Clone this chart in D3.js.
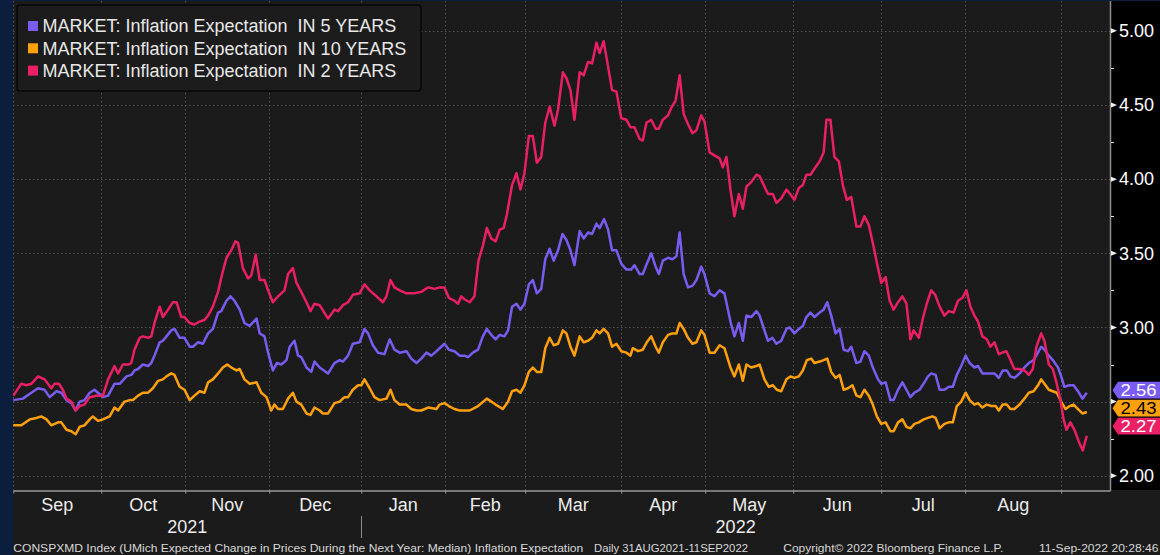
<!DOCTYPE html>
<html>
<head>
<meta charset="utf-8">
<script src="https://cdn.jsdelivr.net/npm/d3@7"></script>
<style>
  html, body { margin: 0; padding: 0; background: #0c1e3e; }
  svg { display: block; }
  text { font-family: "Liberation Sans", Arial, sans-serif; }
</style>
</head>
<body>
<svg width="1160" height="555"></svg>
<script>
// x values are trading days counted from 1 Sep 2021, y values are percent
const monthNames = ["Sep", "Oct", "Nov", "Dec", "Jan", "Feb", "Mar", "Apr", "May", "Jun", "Jul", "Aug"];
const monthStarts = [0, 22, 43, 64, 87, 108, 128, 152, 173, 195, 217, 238, 262];
const yearLabels = ["2021", "2022"];
const yearStarts = [0, 87];
const lastAxisDay = 274.2;

const yGridTicks = [2, 2.5, 3, 3.5, 4, 4.5, 5];
const yLabelTicks = [2, 3, 3.5, 4, 4.5, 5];
const yMinorTicks = [2.25, 2.75, 3.25, 3.75, 4.25, 4.75];

const seriesNames = [
  "MARKET: Inflation Expectation  IN 5 YEARS",
  "MARKET: Inflation Expectation  IN 10 YEARS",
  "MARKET: Inflation Expectation  IN 2 YEARS"
];
const seriesColors = ["#7b5cf2", "#ffa00f", "#ea1f66"];
const labelTextColors = ["#ffffff", "#000000", "#ffffff"];

const in5Years = [[0,2.51],[2.4,2.52],[4.5,2.56],[6.2,2.59],[7.8,2.58],[9.1,2.53],[10.8,2.57],[12.0,2.56],[13.3,2.51],[14.5,2.49],[15.6,2.44],[16.6,2.50],[17.8,2.51],[19.1,2.56],[20.3,2.58],[21.6,2.55],[22.4,2.53],[23.7,2.54],[25.3,2.62],[26.6,2.62],[28.3,2.67],[29.5,2.68],[30.3,2.71],[31.2,2.72],[32.4,2.75],[33.7,2.74],[34.5,2.76],[35.3,2.81],[36.6,2.90],[37.4,2.91],[38.3,2.94],[39.5,2.98],[40.3,2.99],[41.6,2.93],[42.8,2.93],[44.1,2.87],[44.9,2.87],[46.2,2.90],[47.4,2.89],[48.7,2.96],[49.9,2.99],[51.2,3.10],[52.0,3.11],[53.3,3.18],[54.3,3.21],[55.3,3.18],[56.6,3.12],[57.8,3.03],[59.1,3.01],[60.8,3.06],[61.6,2.96],[62.8,2.94],[63.7,2.83],[64.9,2.71],[65.9,2.76],[67.0,2.75],[68.3,2.78],[69.1,2.87],[70.3,2.91],[71.2,2.81],[72.0,2.80],[73.3,2.73],[74.5,2.70],[75.3,2.77],[76.6,2.73],[78.7,2.69],[80.3,2.76],[81.6,2.78],[82.4,2.77],[83.7,2.81],[84.9,2.89],[86.6,2.90],[87.8,2.99],[88.7,2.96],[89.9,2.88],[91.2,2.83],[92.8,2.82],[94.1,2.92],[95.3,2.85],[96.6,2.83],[98.3,2.84],[99.5,2.79],[100.8,2.76],[102.0,2.79],[103.3,2.83],[104.5,2.81],[105.8,2.84],[106.6,2.86],[107.8,2.89],[108.9,2.85],[110.3,2.84],[111.6,2.81],[112.8,2.81],[113.7,2.80],[114.9,2.83],[116.2,2.85],[117.4,2.94],[118.4,2.99],[119.5,2.95],[120.6,2.92],[121.6,2.95],[122.8,2.94],[123.7,2.98],[124.7,3.14],[125.8,3.16],[126.8,3.12],[127.8,3.16],[128.9,3.29],[129.9,3.32],[130.9,3.23],[132.0,3.26],[133.0,3.46],[134.1,3.53],[135.1,3.45],[136.2,3.52],[137.3,3.63],[138.3,3.59],[139.3,3.52],[140.3,3.42],[141.6,3.65],[142.6,3.60],[143.7,3.64],[144.7,3.63],[145.8,3.70],[146.6,3.67],[147.7,3.73],[148.7,3.66],[149.7,3.52],[150.8,3.52],[152.0,3.43],[153.3,3.39],[154.5,3.39],[155.3,3.42],[156.6,3.36],[157.4,3.36],[158.4,3.43],[159.5,3.50],[160.6,3.41],[161.4,3.36],[162.4,3.45],[163.7,3.47],[164.8,3.46],[165.8,3.48],[166.6,3.64],[167.6,3.36],[168.7,3.27],[169.8,3.28],[170.8,3.32],[172.0,3.41],[172.8,3.36],[174.1,3.23],[175.3,3.21],[176.6,3.25],[177.8,3.23],[179.3,3.04],[180.3,2.94],[181.4,3.03],[182.4,2.91],[183.3,3.08],[184.5,3.07],[185.8,3.11],[186.6,3.08],[187.8,2.98],[188.7,2.91],[189.8,2.93],[190.8,2.89],[192.0,2.91],[193.3,2.99],[194.1,3.00],[195.3,2.96],[196.4,2.99],[197.4,3.01],[198.3,3.07],[199.3,3.10],[200.3,3.07],[201.6,3.10],[202.6,3.12],[203.5,3.17],[204.5,3.08],[205.6,2.96],[206.6,2.99],[207.6,2.85],[208.7,2.84],[209.5,2.87],[210.8,2.76],[211.8,2.77],[212.8,2.84],[213.9,2.81],[214.9,2.73],[216.2,2.65],[217.0,2.62],[218.1,2.63],[219.3,2.51],[220.1,2.51],[221.2,2.58],[222.3,2.63],[223.3,2.58],[224.3,2.53],[225.3,2.56],[226.6,2.58],[227.8,2.63],[228.7,2.67],[229.5,2.69],[230.6,2.68],[231.6,2.58],[232.8,2.58],[233.9,2.60],[234.9,2.60],[235.9,2.68],[237.0,2.74],[238.1,2.81],[239.1,2.76],[240.3,2.73],[241.2,2.74],[242.3,2.69],[243.4,2.69],[244.3,2.69],[245.3,2.69],[246.4,2.66],[247.4,2.71],[248.4,2.71],[249.3,2.67],[250.3,2.66],[251.6,2.69],[252.8,2.73],[253.9,2.76],[255.1,2.78],[256.2,2.83],[257.0,2.87],[257.8,2.85],[258.9,2.81],[259.9,2.78],[261.2,2.73],[262.0,2.67],[262.8,2.60],[264.1,2.61],[265.1,2.61],[266.2,2.57],[267.3,2.52],[268.4,2.56]];

const in10Years = [[0,2.34],[2.0,2.34],[4.1,2.38],[5.8,2.39],[7.0,2.40],[8.3,2.38],[9.5,2.34],[11.2,2.36],[12.0,2.36],[13.3,2.31],[14.5,2.30],[15.6,2.28],[16.6,2.33],[17.8,2.34],[19.1,2.38],[19.9,2.40],[21.2,2.37],[22.4,2.38],[24.1,2.40],[25.3,2.46],[26.2,2.44],[27.8,2.50],[29.1,2.51],[29.9,2.51],[31.2,2.54],[32.4,2.56],[33.7,2.56],[34.9,2.59],[36.2,2.64],[37.4,2.65],[38.3,2.67],[39.5,2.69],[40.3,2.68],[41.6,2.60],[42.8,2.58],[44.1,2.51],[45.3,2.54],[46.6,2.57],[47.8,2.56],[48.7,2.63],[49.9,2.65],[51.2,2.69],[52.4,2.73],[53.5,2.75],[54.5,2.73],[55.8,2.71],[56.6,2.72],[57.8,2.65],[59.1,2.62],[60.8,2.63],[62.0,2.56],[63.3,2.53],[64.5,2.44],[65.3,2.48],[66.2,2.45],[67.4,2.45],[68.7,2.52],[69.9,2.56],[70.8,2.50],[72.0,2.48],[73.3,2.42],[74.3,2.41],[75.3,2.46],[76.6,2.44],[77.4,2.42],[78.7,2.42],[80.3,2.49],[81.6,2.50],[82.8,2.53],[83.7,2.53],[84.9,2.58],[86.2,2.61],[87.0,2.61],[87.8,2.65],[89.1,2.59],[90.3,2.53],[91.6,2.51],[93.3,2.52],[94.3,2.58],[95.3,2.51],[96.6,2.48],[98.3,2.48],[99.5,2.45],[100.8,2.44],[102.0,2.44],[103.7,2.46],[105.8,2.45],[106.6,2.48],[107.8,2.49],[108.9,2.47],[110.3,2.45],[111.6,2.44],[112.8,2.44],[114.1,2.44],[116.2,2.47],[118.4,2.52],[120.6,2.48],[122.4,2.45],[123.7,2.50],[124.7,2.57],[125.8,2.58],[126.8,2.56],[127.8,2.61],[128.9,2.70],[129.9,2.73],[130.9,2.70],[132.0,2.70],[133.0,2.86],[134.1,2.93],[135.1,2.88],[136.2,2.89],[137.4,2.98],[138.3,2.96],[139.3,2.87],[140.3,2.81],[141.6,2.94],[142.6,2.90],[143.7,2.91],[144.7,2.93],[145.8,2.98],[146.6,2.96],[147.6,2.99],[148.7,2.96],[149.7,2.87],[150.8,2.89],[152.0,2.84],[153.3,2.83],[154.3,2.81],[154.9,2.86],[156.2,2.84],[157.4,2.85],[158.4,2.90],[159.5,2.94],[160.6,2.87],[161.4,2.83],[162.4,2.90],[163.7,2.95],[164.8,2.96],[165.8,2.96],[166.6,3.03],[167.6,2.99],[168.7,2.93],[169.8,2.89],[170.8,2.90],[172.0,2.98],[172.8,2.95],[174.1,2.83],[175.3,2.83],[176.6,2.88],[177.8,2.86],[179.3,2.73],[180.3,2.67],[181.4,2.75],[182.4,2.64],[183.3,2.75],[184.5,2.73],[185.8,2.74],[186.6,2.75],[187.8,2.65],[188.9,2.60],[189.9,2.61],[190.9,2.58],[192.0,2.57],[193.3,2.65],[194.3,2.67],[195.3,2.66],[196.4,2.67],[197.4,2.71],[198.4,2.78],[199.5,2.79],[200.3,2.76],[201.6,2.77],[202.6,2.78],[203.5,2.79],[204.5,2.70],[205.6,2.66],[206.6,2.68],[207.6,2.58],[208.7,2.59],[209.8,2.61],[210.8,2.54],[211.8,2.53],[212.8,2.58],[213.9,2.54],[214.9,2.48],[215.9,2.40],[217.0,2.35],[218.1,2.36],[219.3,2.30],[220.1,2.30],[221.2,2.36],[222.3,2.38],[223.3,2.33],[224.3,2.32],[225.3,2.35],[226.4,2.36],[227.6,2.38],[228.7,2.39],[229.8,2.40],[230.6,2.39],[231.6,2.32],[232.8,2.35],[233.9,2.36],[234.9,2.36],[235.9,2.47],[237.0,2.50],[238.1,2.56],[239.1,2.51],[240.3,2.48],[241.2,2.49],[242.3,2.46],[243.4,2.48],[244.5,2.47],[245.6,2.47],[246.4,2.44],[247.4,2.48],[248.4,2.48],[249.3,2.45],[250.3,2.45],[251.6,2.48],[252.8,2.52],[253.9,2.56],[255.1,2.57],[256.2,2.61],[257.0,2.65],[257.8,2.62],[258.9,2.58],[259.9,2.57],[260.9,2.56],[262.0,2.50],[263.1,2.45],[264.1,2.47],[265.1,2.48],[266.2,2.45],[267.3,2.42],[268.4,2.43]];

const in2Years = [[0,2.54],[2.0,2.62],[3.3,2.61],[4.5,2.62],[6.2,2.67],[7.8,2.65],[9.5,2.59],[10.3,2.62],[11.4,2.62],[12.4,2.58],[13.3,2.52],[14.5,2.50],[15.6,2.44],[16.6,2.47],[17.8,2.48],[19.1,2.53],[20.8,2.54],[22.4,2.54],[23.7,2.65],[25.3,2.74],[26.2,2.69],[27.4,2.75],[28.7,2.75],[29.5,2.76],[30.3,2.85],[31.6,2.93],[32.4,2.94],[33.7,2.93],[34.5,2.94],[35.3,3.03],[36.6,3.14],[37.4,3.07],[38.7,3.12],[39.9,3.17],[40.8,3.17],[42.0,3.07],[42.8,3.07],[44.1,3.03],[45.3,3.02],[46.6,3.04],[47.8,3.05],[48.7,3.08],[49.9,3.14],[51.2,3.24],[52.4,3.38],[53.3,3.47],[54.5,3.52],[55.5,3.58],[56.2,3.57],[57.4,3.40],[58.7,3.33],[59.5,3.35],[60.6,3.49],[61.6,3.32],[62.8,3.32],[63.7,3.25],[64.9,3.17],[66.2,3.21],[67.8,3.25],[68.7,3.36],[69.9,3.40],[70.8,3.30],[72.0,3.24],[73.3,3.17],[74.3,3.11],[75.3,3.16],[76.6,3.15],[78.7,3.06],[80.3,3.12],[81.2,3.11],[82.4,3.15],[83.7,3.17],[84.9,3.22],[86.6,3.23],[87.8,3.29],[89.1,3.25],[90.8,3.21],[92.4,3.17],[93.3,3.21],[94.3,3.32],[95.3,3.27],[96.6,3.25],[98.3,3.23],[100.3,3.23],[102.0,3.24],[103.7,3.27],[105.3,3.26],[106.6,3.27],[107.8,3.27],[108.9,3.20],[110.3,3.18],[111.2,3.16],[112.0,3.21],[112.8,3.19],[114.1,3.17],[115.3,3.21],[116.3,3.45],[117.4,3.55],[118.4,3.67],[119.5,3.60],[120.6,3.58],[121.6,3.66],[122.6,3.67],[123.4,3.76],[124.7,3.96],[125.8,4.04],[126.8,3.93],[127.8,4.04],[128.9,4.29],[129.9,4.29],[130.9,4.11],[132.0,4.15],[133.0,4.38],[134.1,4.49],[135.3,4.36],[136.2,4.47],[137.4,4.72],[138.3,4.68],[139.3,4.60],[140.3,4.40],[141.6,4.72],[142.6,4.70],[143.7,4.79],[144.7,4.78],[145.8,4.92],[146.6,4.85],[147.6,4.93],[148.7,4.76],[149.7,4.60],[150.8,4.59],[152.0,4.41],[153.3,4.40],[154.3,4.35],[155.3,4.35],[156.6,4.27],[157.4,4.26],[158.3,4.38],[159.5,4.40],[160.6,4.34],[161.4,4.34],[162.4,4.40],[163.7,4.43],[164.5,4.48],[165.6,4.53],[166.6,4.70],[167.6,4.44],[168.7,4.37],[169.8,4.31],[170.8,4.33],[172.0,4.43],[172.8,4.39],[174.1,4.18],[175.3,4.16],[176.6,4.14],[177.4,4.08],[178.3,4.15],[179.3,3.93],[180.3,3.75],[181.4,3.90],[182.4,3.80],[183.3,3.95],[184.5,3.98],[185.8,4.03],[186.6,4.02],[187.8,3.95],[188.7,3.90],[189.9,3.90],[190.8,3.84],[192.0,3.87],[193.3,3.93],[194.5,3.89],[195.3,3.86],[196.4,3.94],[197.4,3.96],[198.3,4.03],[199.3,4.03],[200.3,4.07],[201.6,4.12],[202.6,4.18],[203.3,4.40],[204.3,4.40],[205.3,4.15],[206.4,4.12],[207.4,3.96],[208.4,3.86],[209.5,3.88],[210.8,3.68],[211.8,3.68],[212.8,3.75],[213.9,3.69],[214.9,3.57],[215.8,3.45],[217.0,3.30],[218.1,3.34],[219.1,3.18],[220.1,3.12],[221.2,3.17],[222.3,3.21],[223.3,3.16],[224.3,2.92],[225.1,2.98],[226.4,2.93],[227.4,3.06],[228.5,3.17],[229.5,3.25],[230.5,3.22],[231.6,3.14],[232.8,3.08],[233.9,3.11],[235.1,3.10],[236.2,3.18],[237.3,3.20],[238.3,3.25],[239.3,3.14],[240.3,3.08],[241.2,3.04],[242.3,2.94],[243.4,2.92],[244.3,2.87],[245.3,2.90],[246.4,2.82],[247.3,2.83],[248.3,2.84],[249.3,2.78],[250.3,2.72],[251.6,2.72],[252.8,2.71],[253.9,2.68],[254.9,2.72],[255.8,2.87],[257.0,2.96],[257.8,2.91],[258.9,2.75],[259.9,2.72],[260.8,2.63],[261.8,2.51],[262.6,2.38],[263.3,2.31],[264.3,2.36],[265.3,2.31],[266.4,2.23],[267.4,2.17],[268.4,2.27]];

const allSeries = [in5Years, in10Years, in2Years];

const footerTexts = [
  "CONSPXMD Index (UMich Expected Change in Prices During the Next Year: Median) Inflation Expectation",
  "Daily 31AUG2021-11SEP2022",
  "Copyright\u00A9 2022 Bloomberg Finance L.P.",
  "11-Sep-2022 20:28:46"
];

const svg = d3.select("svg");
const svgWidth = Number(svg.attr("width"));
const svgHeight = Number(svg.attr("height"));

// plot frame inside the Bloomberg window
const frame = { left: 13, top: 1, right: 1110, bottom: 490 };

const xScale = d3.scaleLinear().domain([0, lastAxisDay]).range([13.3, frame.right]);
const yScale = d3.scaleLinear().domain([1.904, 5.201]).range([frame.bottom, frame.top]);

// backgrounds
svg.append("rect").attr("width", svgWidth).attr("height", svgHeight).attr("fill", "#0c1e3e");
svg.append("rect")
  .attr("x", frame.left).attr("y", frame.top)
  .attr("width", svgWidth - frame.left).attr("height", svgHeight - frame.top)
  .attr("fill", "#1b1b1b");
svg.append("rect")
  .attr("x", frame.right).attr("y", frame.top)
  .attr("width", svgWidth - frame.right).attr("height", frame.bottom - frame.top)
  .attr("fill", "#000");

// dotted grid
const gridGroup = svg.append("g")
  .attr("stroke", "#555")
  .attr("stroke-width", 1)
  .attr("stroke-dasharray", "1.5,2.5");
gridGroup.selectAll(".hgrid")
  .data(yGridTicks)
  .enter().append("line")
  .attr("x1", frame.left).attr("x2", frame.right)
  .attr("y1", d => Math.round(yScale(d)) + 0.5)
  .attr("y2", d => Math.round(yScale(d)) + 0.5);
gridGroup.selectAll(".vgrid")
  .data(monthStarts)
  .enter().append("line")
  .attr("y1", frame.top).attr("y2", frame.bottom)
  .attr("x1", d => Math.round(xScale(d)) + 0.5)
  .attr("x2", d => Math.round(xScale(d)) + 0.5);

// lines
svg.append("clipPath").attr("id", "plot-clip")
  .append("rect")
  .attr("x", frame.left).attr("y", frame.top)
  .attr("width", frame.right - frame.left).attr("height", frame.bottom - frame.top);

const line = d3.line().x(d => xScale(d[0])).y(d => yScale(d[1]));

svg.append("g").attr("clip-path", "url(#plot-clip)")
  .selectAll("path")
  .data(allSeries)
  .enter().append("path")
  .attr("d", line)
  .attr("fill", "none")
  .attr("stroke", (d, i) => seriesColors[i])
  .attr("stroke-width", 2.5)
  .attr("stroke-linejoin", "round");

// frame borders
svg.append("line")
  .attr("x1", frame.right + 0.5).attr("x2", frame.right + 0.5)
  .attr("y1", frame.top).attr("y2", frame.bottom + 1)
  .attr("stroke", "#8e8e8e").attr("stroke-width", 1.5);

// bottom axis: month ticks
const xAxisGroup = svg.append("g")
  .attr("transform", `translate(0, ${frame.bottom + 0.5})`)
  .call(d3.axisBottom(xScale).tickValues(monthStarts).tickSize(3).tickSizeOuter(0).tickFormat(""));
xAxisGroup.select(".domain").attr("stroke", "#9a9a9a").attr("stroke-width", 1.5);
xAxisGroup.selectAll(".tick line").attr("stroke", "#9a9a9a");

svg.append("g")
  .selectAll("text")
  .data(monthNames)
  .enter().append("text")
  .attr("x", (d, i) => xScale((monthStarts[i] + monthStarts[i + 1]) / 2))
  .attr("y", 511)
  .attr("text-anchor", "middle")
  .attr("font-size", 18)
  .attr("fill", "#ececec")
  .text(d => d);

const yearEnds = yearStarts.slice(1).concat([lastAxisDay]);
svg.append("g")
  .selectAll("text")
  .data(yearLabels)
  .enter().append("text")
  .attr("x", (d, i) => xScale((yearStarts[i] + yearEnds[i]) / 2))
  .attr("y", 533)
  .attr("text-anchor", "middle")
  .attr("font-size", 18)
  .attr("fill", "#ececec")
  .text(d => d);

svg.append("g")
  .selectAll("line")
  .data(yearStarts.slice(1))
  .enter().append("line")
  .attr("x1", d => Math.round(xScale(d)) + 0.5)
  .attr("x2", d => Math.round(xScale(d)) + 0.5)
  .attr("y1", 516).attr("y2", 538)
  .attr("stroke", "#8a8a8a");

// right axis
const yAxisGroup = svg.append("g")
  .attr("transform", `translate(${frame.right}, 0)`)
  .call(d3.axisRight(yScale).tickValues(yLabelTicks).tickSize(0).tickPadding(9).tickFormat(d3.format(".2f")));
yAxisGroup.select(".domain").remove();
yAxisGroup.selectAll("text")
  .attr("font-size", 18)
  .attr("font-family", "\"Liberation Sans\", Arial, sans-serif")
  .attr("fill", "#ffffff");

svg.append("g")
  .selectAll("path")
  .data(yGridTicks)
  .enter().append("path")
  .attr("d", d => {
    const y = yScale(d);
    return `M${frame.right + 1},${y - 2.5} L${frame.right + 7},${y} L${frame.right + 1},${y + 2.5} Z`;
  })
  .attr("fill", "#f0f0f0");

svg.append("g")
  .selectAll("line")
  .data(yMinorTicks)
  .enter().append("line")
  .attr("x1", frame.right + 1).attr("x2", frame.right + 4)
  .attr("y1", d => Math.round(yScale(d)) + 0.5)
  .attr("y2", d => Math.round(yScale(d)) + 0.5)
  .attr("stroke", "#e0e0e0");

// last value tags, stacked downwards from the highest one
const lastValues = allSeries.map((s, i) => ({ value: s[s.length - 1][1], index: i }))
  .sort((a, b) => b.value - a.value);
const tagPitch = 18;
const firstTagY = yScale(lastValues[0].value) - 2.5;
lastValues.forEach((d, k) => { d.cy = firstTagY + k * tagPitch; });

const tagGroup = svg.append("g");
tagGroup.selectAll("path")
  .data(lastValues)
  .enter().append("path")
  .attr("d", d => {
    const h = tagPitch / 2 - 0.6;
    return `M${frame.right + 2.5},${d.cy} L${frame.right + 8},${d.cy - h} L${svgWidth},${d.cy - h} L${svgWidth},${d.cy + h} L${frame.right + 8},${d.cy + h} Z`;
  })
  .attr("fill", d => seriesColors[d.index]);
tagGroup.selectAll("text")
  .data(lastValues)
  .enter().append("text")
  .attr("x", frame.right + 10.5)
  .attr("y", d => d.cy)
  .attr("dy", "0.36em")
  .attr("font-size", 16)
  .attr("fill", d => labelTextColors[d.index])
  .attr("textLength", 36)
  .attr("lengthAdjust", "spacingAndGlyphs")
  .text(d => d3.format(".2f")(d.value));

// legend
const legend = svg.append("g");
legend.append("rect")
  .attr("x", 17).attr("y", 5)
  .attr("width", 404).attr("height", 86)
  .attr("rx", 3)
  .attr("fill", "#1c1c1c")
  .attr("stroke", "#070707")
  .attr("stroke-width", 1.5);
const legendRows = legend.selectAll(".row")
  .data(seriesNames)
  .enter().append("g")
  .attr("transform", (d, i) => `translate(28, ${26 + i * 22.3})`);
legendRows.append("rect")
  .attr("x", 0).attr("y", -5)
  .attr("width", 10).attr("height", 10)
  .attr("fill", (d, i) => seriesColors[i]);
legendRows.append("text")
  .attr("x", 14.5)
  .attr("dy", "0.36em")
  .attr("font-size", 18)
  .attr("fill", "#e8e8e8")
  .style("white-space", "pre")
  .text(d => d);

// footer line
const footerX = [13.3, 594, 783.3, 1039];
const footerW = [570, 154, 220, 119.5];
svg.append("g")
  .selectAll("text")
  .data(footerTexts)
  .enter().append("text")
  .attr("x", (d, i) => footerX[i])
  .attr("y", 551.5)
  .attr("font-size", 11.5)
  .attr("fill", "#d8d8d8")
  .attr("textLength", (d, i) => footerW[i])
  .attr("lengthAdjust", "spacingAndGlyphs")
  .text(d => d);
</script>
</body>
</html>
